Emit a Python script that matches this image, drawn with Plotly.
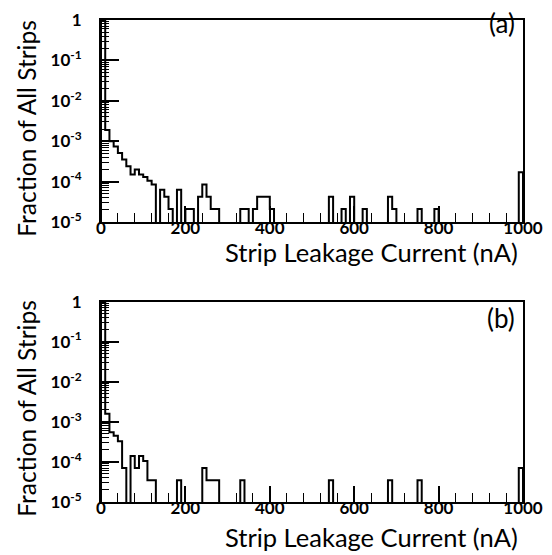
import plotly.graph_objects as go

# ---------------- data (bin width 10 nA, 0..1000 nA) ----------------
bin_width = 10
# panel (a): nonzero bins -> lower edge (nA), fraction of all strips
a_lo = [0, 10, 20, 30, 40, 50, 60, 70, 80, 90, 100, 110, 120,
        140, 150, 160, 180, 200, 210, 230, 240, 250, 260, 270,
        330, 340, 360, 370, 380, 390, 400,
        540, 570, 590, 620, 680, 690, 750, 790, 990]
a_frac = [0.97, 1.9e-3, 1.0e-3, 7.4e-4, 5.1e-4, 3.5e-4, 2.4e-4, 1.5e-4, 2.0e-4, 1.5e-4, 1.3e-4, 1.05e-4, 8.5e-5,
          6.3e-5, 4.2e-5, 2.1e-5, 6.3e-5, 2.1e-5, 2.1e-5, 4.2e-5, 8.4e-5, 4.2e-5, 2.1e-5, 2.1e-5,
          2.1e-5, 2.1e-5, 2.1e-5, 4.2e-5, 4.2e-5, 4.2e-5, 2.1e-5,
          4.2e-5, 2.1e-5, 4.2e-5, 2.1e-5, 4.2e-5, 2.1e-5, 2.1e-5, 2.1e-5, 1.7e-4]
# panel (b)
b_lo = [0, 10, 20, 30, 40, 50, 70, 80, 90, 100, 110, 120,
        180, 240, 250, 260, 270, 330, 540, 680, 750, 990]
b_frac = [0.97, 1.6e-3, 5.5e-4, 4.5e-4, 3.3e-4, 7.0e-5, 1.4e-4, 7.0e-5, 1.4e-4, 1.05e-4, 3.5e-5, 3.5e-5,
          3.5e-5, 7.0e-5, 3.5e-5, 3.5e-5, 3.5e-5, 3.5e-5, 3.5e-5, 3.5e-5, 3.5e-5, 7.0e-5]

x_tickvals = [0, 200, 400, 600, 800, 1000]
x_ticktext = ["0", "200", "400", "600", "800", "1000"]
y_tickvals = [1e-5, 1e-4, 1e-3, 1e-2, 1e-1, 1]
y_ticktext = ["10<sup>-5</sup>", "10<sup>-4</sup>", "10<sup>-3</sup>", "10<sup>-2</sup>", "10<sup>-1</sup>", "1"]
panel_labels = ["(a)", "(b)"]
x_title = "Strip Leakage Current (nA)"
y_title = "Fraction of All Strips"

FLOOR = 1e-9  # empty bins (drawn below the visible axis range)


def step_outline(lo, frac):
    nb = 1000 // bin_width
    vals = [FLOOR] * nb
    for l, f in zip(lo, frac):
        vals[l // bin_width] = f
    xs = [0] + [i * bin_width for i in range(nb)] + [1000, 1000]
    ys = [FLOOR] + vals + [vals[-1], FLOOR]
    return xs, ys


FONT = "Lato"
fig = go.Figure()
for k, (lo, frac) in enumerate([(a_lo, a_frac), (b_lo, b_frac)]):
    xs, ys = step_outline(lo, frac)
    fig.add_trace(go.Scatter(x=xs, y=ys, mode="lines", line=dict(color="black", width=2, shape="hv"),
                             xaxis="x" if k == 0 else "x2", yaxis="y" if k == 0 else "y2",
                             showlegend=False, hoverinfo="skip"))

minor_y = [m * 10 ** e for e in range(-5, 0) for m in range(2, 10)]

xcommon = dict(range=[0, 1000], showline=True, mirror=True, linecolor="black", linewidth=2,
               showgrid=False, zeroline=False, tickmode="array", tickvals=x_tickvals, ticktext=x_ticktext,
               ticks="inside", ticklen=16, tickwidth=1.5, tickcolor="black",
               minor=dict(tickmode="linear", tick0=0, dtick=40, ticks="inside", ticklen=9, tickwidth=1.2,
                          tickcolor="black", showgrid=False),
               tickfont=dict(family=FONT, size=17, color="black", weight="bold"), ticklabelstandoff=-10)
ycommon = dict(type="log", range=[-5, 0], showline=True, mirror=True, linecolor="black", linewidth=2,
               showgrid=False, zeroline=False, tickmode="array", tickvals=y_tickvals, ticktext=y_ticktext,
               ticks="inside", ticklen=18, tickwidth=1.5, tickcolor="black",
               minor=dict(tickmode="array", tickvals=minor_y, ticks="inside", ticklen=8, tickwidth=1,
                          tickcolor="black", showgrid=False),
               tickfont=dict(family=FONT, size=17, color="black", weight="bold"), ticklabelstandoff=14)

fig.update_layout(
    width=552, height=555,
    margin=dict(l=101, r=28, t=9, b=53),
    paper_bgcolor="white", plot_bgcolor="white",
    xaxis=dict(domain=[0, 1], anchor="y", **xcommon),
    yaxis=dict(domain=[0.581, 1.0], anchor="x", **ycommon),
    xaxis2=dict(domain=[0, 1], anchor="y2", **xcommon),
    yaxis2=dict(domain=[0.0, 0.4158], anchor="x2", **ycommon),
)

ann = []
for k, (ytit, ylab, yx) in enumerate([(0.518, 0.993, 0.775), (-0.073, 0.381, 0.194)]):
    ann.append(dict(text=x_title, xref="paper", yref="paper", x=0.993, y=ytit, xanchor="right", yanchor="middle",
                    showarrow=False, font=dict(family=FONT, size=25.5, color="black")))
    ann.append(dict(text=y_title, xref="paper", yref="paper", x=-0.177, y=yx, xanchor="center", yanchor="middle",
                    textangle=-90, showarrow=False, font=dict(family=FONT, size=24.5, color="black")))
    ann.append(dict(text=panel_labels[k], xref="paper", yref="paper", x=0.985, y=ylab, xanchor="right",
                    yanchor="middle", showarrow=False, font=dict(family=FONT, size=26, color="black")))
fig.update_layout(annotations=ann)

fig.write_html("out.html")
